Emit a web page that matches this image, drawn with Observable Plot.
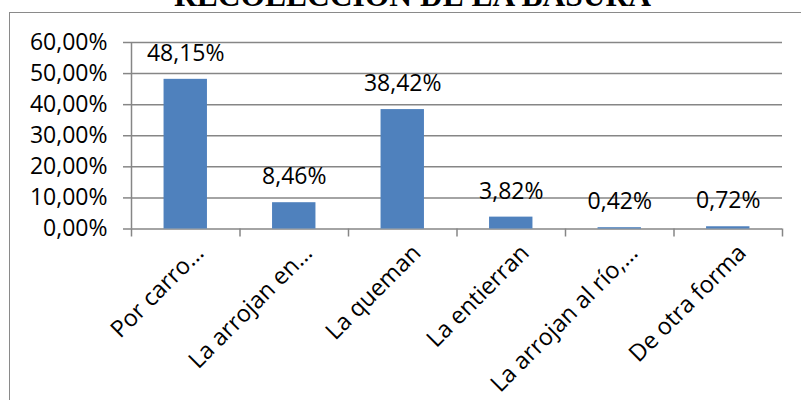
<!DOCTYPE html>
<html>
<head>
<meta charset="utf-8">
<script src="https://cdn.jsdelivr.net/npm/d3@7"></script>
<script src="https://cdn.jsdelivr.net/npm/@observablehq/plot@0.6"></script>
<style>
  html, body { margin: 0; padding: 0; background: #fff; }
  #wrap { position: relative; width: 801px; height: 400px; overflow: hidden; background: #fff; }
  #frame { position: absolute; left: 9px; top: 12px; width: 900px; height: 500px;
           border: 1.6px solid #8a8a8a; box-sizing: border-box; pointer-events: none; }
  #title { position: absolute; left: 0; top: -20.4px; width: 825px; text-align: center;
           font-family: "Liberation Serif", "Times New Roman", serif; font-weight: bold;
           font-size: 31.5px; line-height: 31.5px; color: #000; white-space: nowrap; }
  #wrap svg { position: absolute; left: 0; top: 0; }
</style>
</head>
<body>
<div id="wrap">
  <div id="frame"></div>
  <div id="title">RECOLECCIÓN DE LA BASURA</div>
</div>
<script>
// Data
const title = "RECOLECCIÓN DE LA BASURA";
const categories = ["Por carro…", "La arrojan en…", "La queman", "La entierran", "La arrojan al río,…", "De otra forma"];
const values = [48.15, 8.46, 38.42, 3.82, 0.42, 0.72];
const yTicks = [0, 10, 20, 30, 40, 50, 60];

const data = categories.map((c, i) => ({category: c, index: i, value: values[i]}));
const xBoundaries = d3.range(categories.length + 1);
const fmt = d => d.toFixed(2).replace(".", ",") + "%";
const gray = "#868686";

const plot = Plot.plot({
  width: 801,
  height: 400,
  marginLeft: 131,
  marginRight: 19,
  marginTop: 42,
  marginBottom: 171.5,
  style: {fontFamily: "'Open Sans', sans-serif", fontSize: "23px", color: "#000", background: "transparent", overflow: "visible"},
  x: {type: "linear", domain: [0, categories.length], label: null},
  y: {type: "linear", domain: [0, 60], label: null},
  marks: [
    Plot.ruleY(yTicks, {stroke: gray, strokeWidth: 1.5}),
    Plot.ruleX([0], {stroke: gray, strokeWidth: 1.5}),
    Plot.axisY(yTicks, {label: null, tickSize: 8, tickPadding: 16, tickFormat: fmt, stroke: gray, strokeWidth: 1.5, fill: "#000", fontSize: 23}),
    Plot.axisX(xBoundaries, {label: null, tickSize: 8, tickFormat: () => "", stroke: gray, strokeWidth: 1.5}),
    Plot.rectY(data, {x1: d => d.index + 0.3, x2: d => d.index + 0.7, y1: 0, y2: "value", fill: "#4f81bd"}),
    Plot.text(data, {x: d => d.index + 0.5, y: "value", text: d => fmt(d.value), lineAnchor: "bottom", dy: -18.5, fill: "#000", fontSize: 23}),
    Plot.text(data, {x: d => d.index + 0.5, y: 0, text: "category", rotate: -45, textAnchor: "end", lineAnchor: "middle", dx: 14, dy: 20, fill: "#000", fontSize: 23.5})
  ]
});

document.getElementById("wrap").prepend(plot);
</script>
</body>
</html>
